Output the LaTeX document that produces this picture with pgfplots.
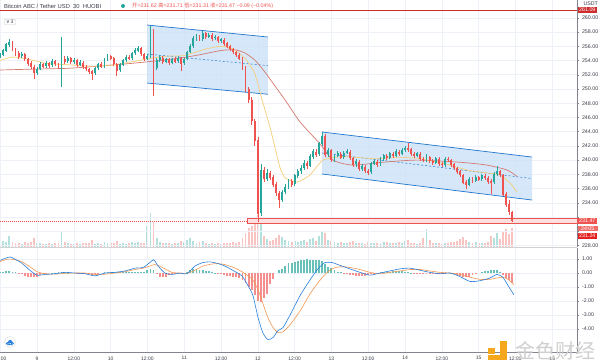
\documentclass[border=0pt]{standalone}
\usepackage{pgfplots}
\pgfplotsset{compat=1.18}
\usepackage{pgfplotstable}
\usepackage{fontspec}
\setmainfont{Liberation Sans}
\newfontfamily\cjk{Noto Sans CJK SC}
\newfontfamily\dejavu{DejaVu Sans}
\definecolor{upc}{RGB}{38,166,154}
\definecolor{dnc}{RGB}{239,83,80}
\definecolor{gridc}{RGB}{238,241,247}
\definecolor{axc}{RGB}{130,133,144}
\definecolor{txtc}{RGB}{60,62,72}
\definecolor{chfill}{RGB}{206,227,248}
\definecolor{chline}{RGB}{33,118,205}
\definecolor{maR}{RGB}{214,122,112}
\definecolor{maY}{RGB}{246,206,122}
\definecolor{macdB}{RGB}{41,128,220}
\definecolor{macdO}{RGB}{242,152,82}
\definecolor{logoO}{RGB}{245,168,30}
\definecolor{darkred}{RGB}{205,45,45}
\definecolor{brightred}{RGB}{228,32,32}
\definecolor{cloudb}{RGB}{41,128,220}

\pgfplotstableread{
t o hi lo c v m
-12 254.5 255.1 254.3 254.8 12 0.10
-11 254.8 255.6 254.6 255.4 18 0.10
-10 255.4 256.5 255.2 256.2 15 0.12
-9 256.2 257.0 255.9 256.5 30 0.15
-8 256.5 256.7 255.3 255.6 14 0.08
-7 255.6 255.8 254.6 255.0 10 0.05
-6 255.0 255.3 254.2 254.6 12 -0.05
-5 254.6 255.2 254.3 254.9 9 -0.10
-4 254.9 255.1 253.9 254.2 15 -0.20
-3 254.2 254.4 253.2 253.6 11 -0.25
-2 253.6 253.9 252.8 253.1 13 -0.30
-1 253.1 253.3 251.4 252.3 25 -0.28
0 252.3 253.1 252.0 252.8 12 -0.25
1 252.8 253.8 252.6 253.5 10 -0.15
2 253.5 253.7 252.9 253.2 9 -0.08
3 253.2 253.9 253.0 253.6 8 -0.05
4 253.6 253.8 253.0 253.3 11 0.00
5 253.3 254.2 253.1 253.9 9 0.02
6 253.9 254.1 253.2 253.5 10 0.03
7 253.5 253.7 252.8 253.2 12 0.05
8 253.2 257.3 250.3 254.2 45 0.08
9 254.2 254.6 253.5 253.9 14 0.06
10 253.9 254.6 253.6 254.3 10 0.03
11 254.3 254.5 253.5 253.8 9 0.00
12 253.8 254.3 253.5 254.0 8 0.00
13 254.0 254.2 253.1 253.4 10 -0.02
14 253.4 254.0 253.2 253.7 9 -0.04
15 253.7 253.9 252.8 253.1 11 -0.05
16 253.1 253.3 252.5 252.8 12 -0.08
17 252.8 253.0 252.1 252.5 10 -0.10
18 252.5 252.7 251.3 252.2 20 -0.12
19 252.2 253.1 252.0 252.9 9 -0.10
20 252.9 253.7 252.7 253.5 11 -0.05
21 253.5 253.8 252.9 253.2 8 0.00
22 253.2 254.3 253.0 254.1 15 0.05
23 254.1 254.9 253.9 254.6 12 0.06
24 254.6 254.8 254.0 254.3 10 0.05
25 254.3 254.5 253.2 253.5 11 0.05
26 253.5 253.7 251.8 252.6 18 0.06
27 252.6 253.6 252.4 253.4 9 0.05
28 253.4 254.2 253.2 254.0 10 0.05
29 254.0 254.8 253.8 254.5 8 0.07
30 254.5 254.7 254.0 254.3 12 0.10
31 254.3 255.2 254.1 255.0 14 0.10
32 255.0 255.7 254.8 255.4 11 0.10
33 255.4 256.0 255.2 255.7 15 0.08
34 255.7 255.9 254.6 254.9 10 0.05
35 254.9 255.1 253.9 254.2 12 0.10
36 254.2 254.9 254.0 254.6 60 0.20
37 254.6 258.8 254.4 258.2 95 0.30
38 258.2 258.4 249.0 253.0 70 0.25
39 253.0 254.3 252.7 254.0 25 -0.05
40 254.0 254.7 253.8 254.4 15 -0.25
41 254.4 254.6 253.5 253.8 12 -0.30
42 253.8 254.4 253.6 254.1 10 -0.25
43 254.1 254.3 253.4 253.7 11 -0.15
44 253.7 254.4 253.5 254.2 9 -0.08
45 254.2 254.5 253.6 253.9 12 -0.02
46 253.9 254.6 253.7 254.3 10 0.00
47 254.3 254.5 252.5 253.6 18 -0.03
48 253.6 254.4 253.4 254.2 14 0.00
49 254.2 255.4 254.0 255.2 20 0.10
50 255.2 256.3 255.0 256.0 25 0.20
51 256.0 257.4 255.8 257.1 18 0.30
52 257.1 257.7 256.8 257.4 12 0.30
53 257.4 257.6 256.7 257.0 15 0.25
54 257.0 258.2 256.8 257.8 16 0.22
55 257.8 258.0 257.0 257.3 10 0.18
56 257.3 257.9 257.1 257.6 9 0.15
57 257.6 257.8 256.8 257.1 11 0.08
58 257.1 257.6 256.9 257.3 8 0.02
59 257.3 257.5 256.5 256.8 10 -0.05
60 256.8 257.2 256.5 256.9 9 -0.08
61 256.9 257.1 256.1 256.4 12 -0.12
62 256.4 256.6 255.7 256.0 10 -0.18
63 256.0 256.2 255.3 255.6 11 -0.22
64 255.6 255.8 254.9 255.2 14 -0.25
65 255.2 255.4 254.5 254.8 12 -0.30
66 254.8 255.0 254.0 254.3 15 -0.35
67 254.3 254.5 252.7 253.0 25 -0.50
68 253.0 253.2 249.6 250.0 40 -0.70
69 250.0 250.3 248.0 248.5 55 -1.00
70 248.5 248.8 245.0 245.5 60 -1.20
71 245.5 245.8 242.0 242.8 75 -1.60
72 242.8 243.2 231.3 232.5 90 -2.00
73 232.5 239.4 232.2 238.6 65 -2.10
74 238.6 239.0 236.9 237.4 30 -1.80
75 237.4 238.7 237.0 238.2 22 -1.50
76 238.2 238.5 237.2 237.6 18 -0.80
77 237.6 237.9 236.2 236.6 20 -0.40
78 236.6 236.9 235.0 235.4 25 0.00
79 235.4 235.7 233.3 234.4 35 0.20
80 234.4 235.8 234.1 235.5 28 0.30
81 235.5 236.6 235.2 236.2 20 0.50
82 236.2 237.4 235.9 237.0 18 0.70
83 237.0 237.3 236.2 236.6 15 0.75
84 236.6 238.1 236.4 237.8 16 0.80
85 237.8 238.8 237.5 238.4 14 0.85
86 238.4 239.3 238.1 238.9 18 0.90
87 238.9 240.0 238.6 239.6 20 0.95
88 239.6 239.9 238.8 239.2 15 1.00
89 239.2 240.8 239.0 240.5 22 0.95
90 240.5 241.5 240.2 241.2 25 0.90
91 241.2 241.6 240.5 240.8 18 0.95
92 240.8 242.6 240.6 242.3 30 0.90
93 242.3 243.9 242.0 243.4 45 0.85
94 243.4 243.6 240.4 240.8 40 0.65
95 240.8 241.7 240.5 241.4 20 0.45
96 241.4 241.6 239.8 240.1 18 0.35
97 240.1 240.9 239.8 240.6 15 0.20
98 240.6 241.3 240.4 240.9 12 0.10
99 240.9 241.1 240.1 240.4 14 0.05
100 240.4 241.3 240.2 241.0 10 -0.05
101 241.0 241.6 240.8 241.2 12 -0.10
102 241.2 241.4 240.0 240.3 15 -0.12
103 240.3 240.5 239.1 239.4 16 -0.15
104 239.4 240.1 239.1 239.8 12 -0.18
105 239.8 240.0 238.5 238.8 10 -0.20
106 238.8 239.4 238.5 239.1 11 -0.20
107 239.1 239.3 238.2 238.5 9 -0.18
108 238.5 238.8 237.9 238.3 14 -0.15
109 238.3 239.8 238.1 239.5 12 -0.10
110 239.5 240.1 239.3 239.8 11 -0.05
111 239.8 240.0 239.1 239.4 10 0.00
112 239.4 240.4 239.2 240.1 12 0.05
113 240.1 240.9 239.9 240.6 13 0.08
114 240.6 240.8 240.0 240.3 15 0.10
115 240.3 241.2 240.1 240.9 11 0.10
116 240.9 241.1 240.3 240.6 10 0.12
117 240.6 241.5 240.4 241.2 12 0.15
118 241.2 241.4 240.6 240.9 14 0.15
119 240.9 241.7 240.7 241.4 11 0.12
120 241.4 242.0 241.2 241.7 16 0.10
121 241.7 242.4 241.2 241.5 20 0.08
122 241.5 241.7 240.6 240.9 12 0.02
123 240.9 241.1 240.3 240.6 10 -0.03
124 240.6 241.2 240.4 240.9 9 -0.05
125 240.9 241.1 239.9 240.2 11 -0.08
126 240.2 240.5 239.7 240.0 25 -0.10
127 240.0 240.8 239.8 240.4 50 -0.10
128 240.4 240.6 239.6 239.9 20 -0.10
129 239.9 240.1 239.3 239.6 12 -0.10
130 239.6 240.5 239.4 240.2 10 -0.08
131 240.2 240.4 239.2 239.5 11 -0.06
132 239.5 239.8 239.0 239.3 9 -0.05
133 239.3 240.4 239.1 240.1 12 -0.02
134 240.1 240.4 239.7 240.0 10 0.00
135 240.0 240.2 239.1 239.4 14 -0.05
136 239.4 239.6 238.6 238.9 15 -0.10
137 238.9 239.1 238.1 238.4 18 -0.15
138 238.4 238.6 237.6 237.9 22 -0.22
139 237.9 238.1 236.6 236.9 28 -0.28
140 236.9 237.2 235.9 236.5 20 -0.30
141 236.5 237.6 236.3 237.3 15 -0.25
142 237.3 237.6 236.8 237.1 12 -0.15
143 237.1 237.9 236.9 237.6 14 -0.10
144 237.6 237.8 237.0 237.3 11 0.00
145 237.3 238.1 237.1 237.8 10 0.08
146 237.8 238.0 237.2 237.5 12 0.12
147 237.5 237.7 236.7 237.0 14 0.15
148 237.0 237.3 235.2 236.9 30 0.20
149 236.9 238.3 236.7 238.0 25 0.25
150 238.0 239.2 237.8 238.4 40 0.20
151 238.4 238.6 237.6 237.9 22 0.05
152 237.9 238.1 234.9 235.2 45 -0.15
153 235.2 235.5 233.4 233.8 50 -0.35
154 233.8 234.4 232.3 232.7 38 -0.50
155 232.7 232.9 231.24 231.47 55 -0.70
}\candles

\pgfplotsset{
  upbar/.style={x filter/.expression={\thisrow{c}>=\thisrow{o} ? x : nan}},
  dnbar/.style={x filter/.expression={\thisrow{c}<\thisrow{o} ? x : nan}},
  tvbase/.style={at={(0pt,#1)}, anchor=south west, scale only axis, width=577pt,
    xmin=-12.06, xmax=176.07},
}

\begin{document}
\begin{tikzpicture}
\useasboundingbox (0pt,0pt) rectangle (600pt,363pt);
\fill[white] (0pt,0pt) rectangle (600pt,363pt);

% ---------- volume ----------
\begin{axis}[tvbase=116pt, height=247pt, ymin=0, ymax=700, axis lines=none]
\addplot[upbar, ycomb, upc!35, line width=1.9pt, mark=none] table[x=t,y=v]{\candles};
\addplot[dnbar, ycomb, dnc!35, line width=1.9pt, mark=none] table[x=t,y=v]{\candles};
\end{axis}

% ---------- price ----------
\begin{axis}[tvbase=116pt, height=247pt, ymin=227.79, ymax=262.5,
  axis y line*=right, axis x line*=bottom,
  x axis line style={draw=gray!35, line width=0.6pt},
  y axis line style={draw=axc, line width=0.5pt},
  xtick={-12,0,...,168}, xticklabels={}, xtick style={draw=none},
  ytick={228,234,236,...,260},
  extra y ticks={230,232}, extra y tick labels={},
  ytick style={draw=axc, line width=0.4pt}, tick align=outside, major tick length=2pt,
  yticklabel style={font=\fontsize{5.3}{6}\selectfont, text=txtc, xshift=-0.5pt,
     /pgf/number format/fixed, /pgf/number format/fixed zerofill, /pgf/number format/precision=2},
  /pgf/number format/assume math mode=true,
  grid=major, grid style={gridc, line width=0.5pt},
  extra tick style={grid=major},
  clip=false]
% channels
\addplot[fill=chfill, fill opacity=0.85, draw=none] coordinates {(35.9,258.98) (75.3,257.30) (75.3,249.25) (35.9,250.83)} --cycle;
\addplot[fill=chfill, fill opacity=0.85, draw=none] coordinates {(92.9,243.95) (161.4,240.43) (161.4,234.39) (92.9,238.05)} --cycle;
\addplot[chline, line width=0.7pt] coordinates {(35.9,258.98) (75.3,257.30)};
\addplot[chline, line width=0.7pt] coordinates {(35.9,250.83) (75.3,249.25)};
\addplot[chline, line width=0.5pt, dash pattern=on 2pt off 2pt] coordinates {(35.9,254.9) (75.3,253.28)};
\addplot[chline, line width=0.7pt] coordinates {(92.9,243.95) (161.4,240.43)};
\addplot[chline, line width=0.7pt] coordinates {(92.9,238.05) (161.4,234.39)};
\addplot[chline, line width=0.5pt, dash pattern=on 2pt off 2pt] coordinates {(92.9,241.0) (161.4,237.41)};
% horizontal lines
\addplot[darkred, line width=0.8pt] coordinates {(-12.06,261.09) (176.07,261.09)};
\addplot[dnc, line width=0.4pt, dash pattern=on 1pt off 1pt] coordinates {(-12.06,231.47) (176.07,231.47)};
\addplot[draw=dnc, fill=dnc!18, line width=0.5pt] coordinates {(68.5,231.16) (176.07,231.16) (176.07,231.86) (68.5,231.86)} --cycle;
% moving averages
\addplot[maR, line width=0.7pt, smooth, tension=0.4] coordinates {(-12.06,252.66) (0,252.8) (10,252.9) (20,253.2) (31,253.6) (40,254.0) (47.6,254.4) (53,254.8) (60,255.4) (64.6,255.5) (67.8,255.05) (71,254.07) (74.3,252.38) (77.6,250.41) (80.9,248.45) (85.8,245.35) (92.3,242.26) (96.5,240.0) (103,239.3) (112.8,239.7) (123.9,240.0) (137.9,239.7) (146.7,239.3) (153.3,238.6) (156.5,237.7)};
\addplot[maY, line width=0.7pt, smooth, tension=0.3] coordinates {(-12.06,254.0) (-8,254.5) (-3,254.2) (3,253.6) (10,253.4) (18,253.2) (25,253.4) (32,253.9) (37,254.3) (42,254.6) (48,254.7) (55,255.6) (60,256.0) (64,255.6) (67.8,254.3) (71,252.2) (73.4,248.45) (76,244.6) (79.2,239.0) (80.9,237.5) (84.8,236.9) (89,237.9) (93.2,240.0) (100,240.5) (110,240.2) (118,240.4) (125,240.2) (134.7,239.3) (140.2,238.6) (146.7,238.2) (150.9,237.9) (154.2,236.8) (156.5,235.5)};
% candles: wicks (quiver from low to high)
\addplot[upbar, upc, line width=0.5pt, mark=none, quiver={u=0, v=\thisrow{hi}-\thisrow{lo}}]
  table[x=t, y=lo]{\candles};
\addplot[dnbar, dnc, line width=0.5pt, mark=none, quiver={u=0, v=\thisrow{hi}-\thisrow{lo}}]
  table[x=t, y=lo]{\candles};
% candles: bodies (quiver from open to close)
\addplot[upbar, upc, line width=1.9pt, mark=none, quiver={u=0, v=\thisrow{c}-\thisrow{o}+0.05}]
  table[x=t, y=o]{\candles};
\addplot[dnbar, dnc, line width=1.9pt, mark=none, quiver={u=0, v=\thisrow{c}-\thisrow{o}-0.05}]
  table[x=t, y=o]{\candles};
% right-hand price labels
\node[fill=darkred, text=white, font=\fontsize{5.3}{6}\selectfont, anchor=west, inner xsep=1.5pt, inner ysep=0.9pt, xshift=0.5pt] at (axis cs:176.07,261.09) {261.09};
\node[text=txtc, font=\fontsize{5.3}{6}\selectfont, anchor=west, xshift=3pt] at (axis cs:176.07,262.0) {USDT};
\node[fill=dnc, text=white, font=\fontsize{5.3}{6}\selectfont, anchor=west, inner xsep=1.5pt, inner ysep=0.9pt, xshift=0.5pt] at (axis cs:176.07,231.47) {231.47};
\node[fill=dnc!85, text=white, font=\fontsize{5.3}{6}\selectfont, anchor=west, inner xsep=1.5pt, inner ysep=0.9pt, xshift=0.5pt, minimum width=20pt] at (axis cs:176.07,230.42) {24:05};
\node[fill=brightred, text=white, font=\fontsize{5.3}{6}\selectfont, anchor=west, inner xsep=1.5pt, inner ysep=0.9pt, xshift=0.5pt] at (axis cs:176.07,229.37) {231.24};
\end{axis}

% ---------- MACD ----------
\begin{axis}[tvbase=11pt, height=104pt, ymin=-5.64, ymax=1.79,
  axis y line*=right, axis x line*=bottom,
  axis line style={draw=axc, line width=0.5pt},
  xtick={-12,0,...,168},
  xticklabels={12:00,9,12:00,10,12:00,11,12:00,12,12:00,13,12:00,14,12:00,15,12:00,16},
  xtick style={draw=none},
  xticklabel style={font=\fontsize{5}{6}\selectfont, text=txtc, yshift=1pt},
  ytick={-4,-3,...,1},
  ytick style={draw=axc, line width=0.4pt}, tick align=outside, major tick length=2pt,
  yticklabel style={font=\fontsize{5.3}{6}\selectfont, text=txtc, xshift=-0.5pt,
     /pgf/number format/fixed, /pgf/number format/fixed zerofill, /pgf/number format/precision=2},
  /pgf/number format/assume math mode=true,
  grid=major, grid style={gridc, line width=0.5pt},
  clip=false]
\addplot[ycomb, upc!70, line width=1.9pt, mark=none, restrict y to domain=0:5] table[x=t,y=m]{\candles};
\addplot[ycomb, dnc!65, line width=1.9pt, mark=none, restrict y to domain=-5:-0.0001] table[x=t,y=m]{\candles};
\addplot[macdO, line width=0.6pt, smooth, tension=0.4] coordinates {(-12.06,0.8) (-10.4,0.95) (-8.8,1.0) (-7.2,0.95) (-4.9,0.8) (-2.3,0.45) (0,0.1) (2.6,-0.05) (5.9,-0.08) (9.1,-0.02) (12.4,0.0) (15.7,0.0) (18.9,-0.1) (22.2,-0.08) (25.4,0.0) (28.7,0.1) (32,0.25) (34.6,0.35) (36.8,0.5) (38.1,0.6) (39.5,0.55) (41.7,0.3) (44,0.05) (46.6,0.0) (48.9,-0.02) (51.5,0.2) (54.1,0.5) (56.4,0.62) (58.7,0.68) (61.3,0.6) (64.6,0.35) (66.8,0.1) (68.8,-0.2) (70.4,-0.5) (72.1,-1.2) (73.7,-2.2) (75.3,-3.2) (77,-3.9) (78.6,-4.25) (80.2,-4.2) (82.5,-3.7) (85.8,-2.7) (89,-1.5) (91.6,-0.7) (93.9,-0.1) (96.2,0.3) (98.8,0.45) (102,0.4) (105.3,0.25) (108.6,0.05) (111.8,-0.05) (115,0.05) (118.4,0.15) (121.6,0.25) (124.9,0.25) (128.1,0.15) (131.4,0.05) (134.7,0.0) (137.9,-0.1) (141.2,-0.3) (144.4,-0.45) (147.7,-0.45) (150,-0.35) (151.9,-0.3) (153.6,-0.45) (155.5,-0.85)};
\addplot[macdB, line width=0.6pt, smooth, tension=0.4] coordinates {(-12.06,0.9) (-10.4,1.05) (-8.8,1.15) (-7.2,1.0) (-4.9,0.7) (-2.3,0.2) (0,-0.15) (2.6,-0.1) (5.9,-0.05) (9.1,0.05) (12.4,0.0) (15.7,-0.05) (18.9,-0.2) (22.2,0.0) (25.4,0.05) (28.7,0.15) (32,0.35) (34.6,0.4) (36.8,0.75) (38.1,0.95) (39.5,0.5) (41.7,0.0) (44,-0.1) (46.6,0.0) (48.9,-0.05) (51.5,0.5) (54.1,0.75) (56.4,0.8) (58.7,0.7) (61.3,0.5) (64.6,0.1) (66.8,-0.2) (68.8,-0.9) (70.4,-1.6) (72.1,-3.2) (73.7,-4.3) (75.3,-4.75) (77,-4.6) (78.6,-4.1) (80.2,-3.9) (82.5,-3.0) (85.8,-1.6) (89,-0.5) (91.6,0.3) (93.9,0.75) (96.2,0.75) (98.8,0.55) (102,0.3) (105.3,0.05) (108.6,-0.15) (111.8,0.0) (115,0.15) (118.4,0.3) (121.6,0.35) (124.9,0.2) (128.1,0.05) (131.4,-0.05) (134.7,0.0) (137.9,-0.25) (141.2,-0.6) (144.4,-0.55) (147.7,-0.35) (150,-0.1) (151.9,-0.3) (153.6,-0.9) (155.5,-1.55)};
\end{axis}

% ---------- header ----------
\node[anchor=west, font=\fontsize{5.8}{7}\selectfont, text=txtc, inner sep=0pt] at (4pt,357pt) {Bitcoin ABC / Tether USD\ \ 30\ \ HUOBI};
\fill[upc] (123pt,357pt) circle (2pt);
\node[anchor=west, font=\fontsize{5.3}{7}\selectfont, text=dnc, inner sep=0pt] at (132pt,357pt)
  {{\cjk 开}=231.62\ {\cjk 高}=231.71\ {\cjk 低}=231.31\ {\cjk 收}=231.47\ −0.09 (−0.04\%)};
\node[draw=gray!40, rounded corners=1pt, font=\fontsize{5}{6}\selectfont, text=txtc, inner xsep=2pt, inner ysep=1pt, anchor=west] at (4pt,341pt) {{\dejavu ∨}\,3};

% ---------- cloud icon ----------
\fill[white] (10pt,21pt) circle (5.5pt);
\draw[gray!30, line width=0.4pt] (10pt,21pt) circle (5.5pt);
\fill[cloudb] (7.5pt,19.5pt) circle (1.6pt) (10.2pt,20.8pt) circle (2.2pt) (12.5pt,19.5pt) circle (1.5pt) (7.5pt,17.9pt) rectangle (12.5pt,19.5pt);

% ---------- watermark ----------
\fill[logoO] (488pt,9pt) rectangle (495pt,15pt);
\fill[logoO] (500pt,5pt) rectangle (507pt,22pt);
\fill[logoO] (488pt,3pt) rectangle (507pt,8pt);
\node[font=\cjk\fontsize{20}{22}\selectfont, text=gray!38, inner sep=0pt] at (555pt,12pt) {金色财经};
\end{tikzpicture}
\end{document}
